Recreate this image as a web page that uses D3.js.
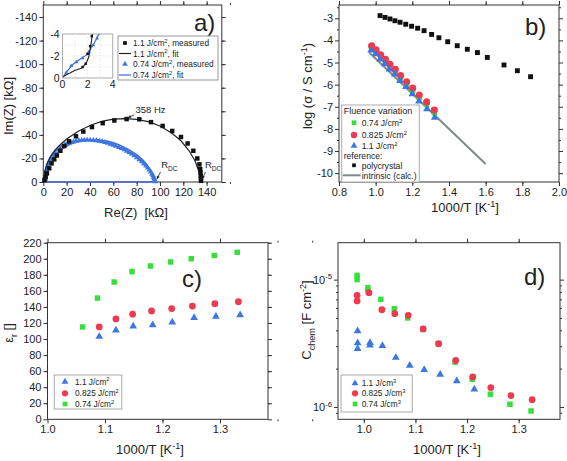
<!DOCTYPE html>
<html><head><meta charset="utf-8">
<script src="https://cdn.jsdelivr.net/npm/d3@7"></script>
<style>body{margin:0;background:#fff} svg{display:block} text{font-family:"Liberation Sans",Arial,sans-serif}</style>
</head><body><svg id="c" width="567" height="461"></svg>
<script>
// ---------- DATA ----------
// panel a (Nyquist), Re in kOhm, Im in kOhm (negative)
const aBlackMeasRe = [1.0,2.0,3.1,5.1,7.1,9.4,11.6,14.6,18.0,22.0,28.0,34.3,41.7,50.9,60.9,71.4,82.3,92.3,102.3,110.5,118.0,123.7,128.6,132.0,133.8,134.5,134.8,135.0,135.1,135.2];
const aBlackMeasIm = [-1.5,-4.0,-7.3,-11.6,-15.8,-19.2,-22.5,-26.5,-30.5,-34.5,-38.8,-42.8,-46.6,-49.9,-52.2,-53.4,-53.2,-50.8,-47.6,-43.3,-38.2,-32.7,-26.5,-20.0,-15.0,-11.0,-8.0,-5.0,-3.0,-1.0];
const aBlackFitRe = [0,1,3,6,10,15,20,30,40,50,60,70,80,90,100,110,118,125,130,133,134.5,135];
const aBlackFitIm = [0,-8,-15,-21,-27,-32,-36.5,-43,-48,-51.5,-53.3,-53.8,-53.2,-51.2,-47.5,-41.5,-35,-26.5,-18,-10,-4,0];
const aBlueMeasRe = [1.5,1.8,2.3,2.9,3.6,4.3,5.4,6.6,8.2,10,12,14.3,16.4,18.6,21,23.5,25.8,28,30.5,32.9,35.3,37.7,40.3,42.9,45.5,48,50.5,52.9,55.3,57.7,60,62.3,64.8,67.2,69.4,71.5,73.6,75.7,77.9,80,82.2,84.3,86.2,88,89.5,90.9,92.1,93.2,94,94.6,95.1,95.4,95.7,96];
const aBlueMeasIm = [-2.3,-4.8,-7.4,-10.2,-13.1,-15.6,-18.2,-20.6,-23,-25.1,-27.2,-28.9,-30.6,-31.8,-32.8,-33.6,-34.2,-34.7,-35.1,-35.4,-35.6,-35.7,-35.6,-35.4,-35.1,-34.8,-34.3,-33.7,-33,-32.2,-31.4,-30.5,-29.5,-28.5,-27.4,-26.3,-25.1,-23.8,-22.3,-20.6,-19,-17.3,-15.5,-13.6,-11.9,-10.2,-8.5,-6.8,-5.4,-4,-2.8,-1.7,-0.8,-0.3];
const aBlueFitRe = [1.4,2,4,7,10,15,20,25,30,35,40,45,50,55,60,65,70,75,80,85,89,92,94,95,95.3,1.4];
const aBlueFitIm = [0,-6,-13,-19,-23,-27.5,-30.5,-32.7,-34.2,-35.1,-35.5,-35.6,-35.3,-34.6,-33.3,-31.5,-29.2,-26.5,-23.2,-19,-14.5,-10,-5.5,-2,0,0];
// inset
const inBlackRe = [0.05,0.3,0.6,1.0,1.5,1.75,1.95,2.1,2.2,2.3,2.38];
const inBlackIm = [-0.1,-0.3,-0.45,-0.7,-0.88,-1.15,-1.5,-1.95,-2.6,-3.3,-4.0];
const inBlackMeasRe = [1.6,1.85,2.0,2.2,2.33];
const inBlackMeasIm = [-1.0,-1.3,-2.2,-2.9,-3.8];
const inBlueRe = [0.05,0.46,0.86,1.4,1.93,2.19,2.59,2.86,2.95];
const inBlueIm = [-0.1,-0.73,-1.27,-1.7,-2.1,-2.55,-3.3,-3.9,-4.0];
const inBlueMeasRe = [0.3,0.7,1.1,1.6,2.1,2.45,2.75];
const inBlueMeasIm = [-0.5,-1.1,-1.45,-1.8,-2.35,-3.0,-3.6];

// panel b (Arrhenius)
const polyX = [1.024,1.051,1.078,1.105,1.133,1.164,1.196,1.229,1.264,1.305,1.345,1.393,1.445,1.5,1.555,1.609,1.70,1.773,1.845];
const polyY = [-2.88,-2.96,-3.03,-3.11,-3.18,-3.27,-3.36,-3.45,-3.56,-3.73,-3.88,-4.06,-4.24,-4.40,-4.55,-4.77,-5.11,-5.37,-5.64];
const bRedX = [0.978,1.002,1.027,1.053,1.078,1.107,1.136,1.169,1.202,1.238,1.278,1.320];
const bRedY = [-4.25,-4.43,-4.65,-4.86,-5.08,-5.31,-5.59,-5.87,-6.15,-6.47,-6.78,-7.15];
const bGreenX = [0.978,1.002,1.027,1.053,1.078,1.107,1.136,1.169,1.202,1.238,1.278,1.320];
const bGreenY = [-4.35,-4.53,-4.75,-4.97,-5.18,-5.42,-5.70,-5.98,-6.27,-6.58,-6.90,-7.27];
const bBlueX = [0.975,1.0,1.025,1.05,1.075,1.104,1.133,1.166,1.2,1.236,1.28,1.322];
const bBlueY = [-4.45,-4.62,-4.85,-5.07,-5.3,-5.53,-5.82,-6.1,-6.42,-6.75,-7.1,-7.48];
const intrX = [0.965,1.6];
const intrY = [-4.55,-9.59];

// panel c (permittivity)
const cGreenX = [1.061,1.087,1.116,1.147,1.179,1.214,1.25,1.29,1.33];
const cGreenY = [115,151,171,184,191,196,200,204,208];
const cRedX = [1.09,1.119,1.148,1.181,1.216,1.252,1.291,1.332];
const cRedY = [115,125,131,135,138,141,144,146.5];
const cBlueX = [1.09,1.119,1.149,1.183,1.217,1.255,1.293,1.335];
const cBlueY = [103,111,116,117.5,121,126.5,128,130];

// panel d (chemical capacitance)
const dGreenX = [0.987,0.987,1.008,1.008,1.033,1.059,1.085,1.115,1.144,1.177,1.21,1.245,1.283,1.324];
const dGreenY = [1.08e-5,1.0e-5,8.65e-6,8.24e-6,7.0e-6,5.9e-6,5.0e-6,4.07e-6,3.14e-6,2.25e-6,1.65e-6,1.26e-6,1.05e-6,9.3e-7];
const dRedX = [0.987,0.987,1.01,1.035,1.06,1.086,1.115,1.145,1.178,1.211,1.246,1.285,1.326];
const dRedY = [7.53e-6,6.8e-6,7.9e-6,5.8e-6,5.4e-6,5.24e-6,4.1e-6,3.14e-6,2.32e-6,1.72e-6,1.42e-6,1.23e-6,1.14e-6];
const dBlueX = [0.988,0.988,0.988,1.012,1.012,1.036,1.062,1.089,1.117,1.148,1.18,1.214];
const dBlueY = [3.95e-6,3.18e-6,2.87e-6,3.2e-6,3.05e-6,3.03e-6,2.44e-6,2.12e-6,1.96e-6,1.80e-6,1.6e-6,1.38e-6];

// ---------- DRAWING ----------
const svg = d3.select("#c");
const GREEN = "#35e03a", RED = "#ee3a4e", BLUE = "#3a78e0", BLACK = "#111", AXC = "#333";
const fmtPlain = d => String(Math.round(d*100)/100).replace("\u2212","-");
const fmt1 = d => d3.format(".1f")(d).replace("\u2212","-");

function axes(g, xs, ys, w, h, o) {
  const defs = [
    [() => d3.axisBottom(xs), `translate(0,${h})`, o.xMaj, o.xMin, o.xFmt],
    [() => d3.axisTop(xs), `translate(0,0)`, o.xMaj, o.xMin, null],
    [() => d3.axisLeft(ys), `translate(0,0)`, o.yMaj, o.yMin, o.yFmt],
    [() => d3.axisRight(ys), `translate(${w},0)`, o.yMaj, o.yMin, null]
  ];
  defs.forEach(([mk, t, maj, min, fmt]) => {
    const gg = g.append("g").attr("transform", t);
    gg.call(mk().tickValues(maj).tickSize(4).tickSizeOuter(0).tickPadding(2).tickFormat(fmt || (() => "")));
    if (min) gg.append("g").call(mk().tickValues(min).tickSize(2).tickSizeOuter(0).tickFormat(() => ""));
    gg.selectAll(".domain").remove();
    gg.selectAll("line").attr("stroke", AXC);
    gg.selectAll("text").filter(function(){ return this.textContent === ""; }).remove();
    gg.selectAll("text").attr("font-size", o.fs || 11).attr("fill", "#222").attr("font-family", "Liberation Sans, Arial, sans-serif");
  });
  g.append("rect").attr("width", w).attr("height", h).attr("fill", "none").attr("stroke", AXC).attr("stroke-width", 1);
}
const range = (a, b, s) => d3.range(Math.round(a/s), Math.round(b/s) + 1).map(i => +(i*s).toFixed(6));
function sym(type, size) { return d3.symbol().type(type).size(size)(); }
function pts(g, xs, ys, X, Y, type, size, color) {
  g.selectAll(null).data(X.map((x, i) => [x, Y[i]])).enter().append("path")
    .attr("d", sym(type, size)).attr("fill", color)
    .attr("transform", d => `translate(${xs(d[0])},${ys(d[1])})`);
}
function line(g, xs, ys, X, Y, color, wdt) {
  g.append("path").attr("d", d3.line()(X.map((x, i) => [xs(x), ys(Y[i])])))
    .attr("fill", "none").attr("stroke", color).attr("stroke-width", wdt);
}
function txt(g, x, y, parts, fs, anchor, rot) {
  const t = g.append("text").attr("x", x).attr("y", y).attr("font-size", fs).attr("fill", "#222")
    .attr("text-anchor", anchor || "start");
  if (rot) t.attr("transform", `rotate(${rot},${x},${y})`);
  let pend = 0;
  parts.forEach(p => {
    if (typeof p === "string") { const s = t.append("tspan").text(p); if (pend) s.attr("dy", pend); pend = 0; }
    else if (p.sup) { t.append("tspan").attr("dy", -fs*0.4 + pend).attr("font-size", fs*0.7).text(p.sup); pend = fs*0.4; }
    else if (p.sub) { t.append("tspan").attr("dy", fs*0.3 + pend).attr("font-size", fs*0.7).text(p.sub); pend = -fs*0.3; }
  });
  return t;
}
function arrow(g, x1, y1, x2, y2) {
  g.append("line").attr("x1", x1).attr("y1", y1).attr("x2", x2).attr("y2", y2).attr("stroke", "#222").attr("stroke-width", 0.8);
  const a = Math.atan2(y2 - y1, x2 - x1), L = 3.5;
  g.append("path").attr("d", `M${x2},${y2}L${x2 - L*Math.cos(a - 0.45)},${y2 - L*Math.sin(a - 0.45)}L${x2 - L*Math.cos(a + 0.45)},${y2 - L*Math.sin(a + 0.45)}Z`).attr("fill", "#222");
}

// ===== Panel a =====
{
  const L = 43.3, T = 5, W = 178.5, H = 177;
  const g = svg.append("g").attr("transform", `translate(${L},${T})`);
  const x = d3.scaleLinear().domain([0, 153]).range([0, W]);
  const y = d3.scaleLinear().domain([0, -150.2]).range([H, 0]);
  axes(g, x, y, W, H, { xMaj: range(0, 140, 20), xMin: range(10, 150, 20), yMaj: range(-140, 0, 20), yMin: range(-150, -10, 20), xFmt: fmtPlain, yFmt: fmtPlain });
  line(g, x, y, aBlueFitRe, aBlueFitIm, "#4a62d8", 1.4);
  pts(g, x, y, aBlueMeasRe, aBlueMeasIm, d3.symbolTriangle, 14, BLUE);
  line(g, x, y, aBlackFitRe, aBlackFitIm, "#222", 1.2);
  pts(g, x, y, aBlackMeasRe, aBlackMeasIm, d3.symbolSquare, 20, BLACK);
  // annotations
  txt(g, x(79), y(-58.5), ["358 Hz"], 9.5);
  arrow(g, x(78), y(-57), x(72.5), y(-54.5));
  txt(g, x(101), y(-12), ["R", {sub: "DC"}], 9.5);
  arrow(g, x(100.5), y(-8.5), x(97.3), y(-2.5));
  txt(g, x(138.5), y(-12), ["R", {sub: "DC"}], 9.5);
  arrow(g, x(139), y(-8.5), x(136.3), y(-2.5));
  txt(g, 194 - L, 31 - T, ["a)"], 24);
  // inset
  const iL = 62.5 - L, iT = 34 - T, iW = 50.2, iH = 44;
  const ig = g.append("g").attr("transform", `translate(${iL},${iT})`);
  const ix = d3.scaleLinear().domain([0, 4]).range([0, iW]);
  const iy = d3.scaleLinear().domain([0, -4]).range([iH, 0]);
  ig.append("rect").attr("width", iW).attr("height", iH).attr("fill", "#fff").attr("stroke", "#aaa");
  [1, 2, 3].forEach(v => {
    ig.append("line").attr("x1", ix(v)).attr("x2", ix(v)).attr("y1", 0).attr("y2", iH).attr("stroke", "#e4e4e4").attr("stroke-dasharray", "1,2");
    ig.append("line").attr("y1", iy(-v)).attr("y2", iy(-v)).attr("x1", 0).attr("x2", iW).attr("stroke", "#e4e4e4").attr("stroke-dasharray", "1,2");
  });
  line(ig, ix, iy, inBlueRe, inBlueIm, "#3f66d8", 1.2);
  pts(ig, ix, iy, inBlueMeasRe, inBlueMeasIm, d3.symbolTriangle, 7, BLUE);
  line(ig, ix, iy, inBlackRe, inBlackIm, "#222", 1.1);
  pts(ig, ix, iy, inBlackMeasRe, inBlackMeasIm, d3.symbolSquare, 6, BLACK);
  [0, 2, 4].forEach(v => txt(ig, ix(v), iH + 10, [String(v)], 10.5, "middle"));
  [[-4, "-4"], [-2, "-2"], [0, "0"]].forEach(([v, s]) => txt(ig, -3, iy(v) + 4, [s], 10.5, "end"));
  // legend
  const lg = g.append("g").attr("transform", `translate(${118 - L},${36 - T})`);
  lg.append("rect").attr("width", 100).attr("height", 44).attr("fill", "#fff").attr("stroke", "#999");
  lg.append("path").attr("d", sym(d3.symbolSquare, 14)).attr("transform", "translate(7,7)").attr("fill", BLACK);
  lg.append("line").attr("x1", 1).attr("x2", 13).attr("y1", 17.5).attr("y2", 17.5).attr("stroke", "#222").attr("stroke-width", 1.2);
  lg.append("path").attr("d", sym(d3.symbolTriangle, 14)).attr("transform", "translate(7,28)").attr("fill", BLUE);
  lg.append("line").attr("x1", 1).attr("x2", 13).attr("y1", 39).attr("y2", 39).attr("stroke", "#4a62d8").attr("stroke-width", 1.2);
  txt(lg, 15, 10, ["1.1 J/cm", {sup: "2"}, ", measured"], 8.3);
  txt(lg, 15, 20.5, ["1.1 J/cm", {sup: "2"}, ", fit"], 8.3);
  txt(lg, 15, 31, ["0.74 J/cm", {sup: "2"}, ", measured"], 8.3);
  txt(lg, 15, 42, ["0.74 J/cm", {sup: "2"}, ", fit"], 8.3);
  txt(svg, 136, 217, ["Re(Z)\u00a0\u00a0[k\u03A9]"], 13, "middle");
  txt(svg, 13, 106, ["Im(Z) [k\u03A9]"], 13, "middle", -90);
}

// ===== Panel b =====
{
  const L = 339, T = 5, W = 220, H = 177;
  const g = svg.append("g").attr("transform", `translate(${L},${T})`);
  const x = d3.scaleLinear().domain([0.8, 2.0]).range([0, W]);
  const y = d3.scaleLinear().domain([-10.4, -2.4]).range([H, 0]);
  axes(g, x, y, W, H, { xMaj: range(0.8, 2.0, 0.2), xMin: range(0.9, 1.9, 0.2), yMaj: range(-10, -3, 1), yMin: range(-10, -2.5, 0.5).filter(v => Math.abs(v % 1) > 0.1), xFmt: fmt1, yFmt: fmtPlain });
  line(g, x, y, intrX, intrY, "#7f8a8c", 2);
  pts(g, x, y, bGreenX, bGreenY, d3.symbolSquare, 30, GREEN);
  pts(g, x, y, bRedX, bRedY, d3.symbolCircle, 40, RED);
  pts(g, x, y, bBlueX, bBlueY, d3.symbolTriangle, 26, BLUE);
  pts(g, x, y, polyX, polyY, d3.symbolSquare, 24, BLACK);
  txt(g, 525 - L, 35 - T, ["b)"], 24);
  const lg = g.append("g").attr("transform", `translate(${341.7 - L},${105 - T})`);
  lg.append("rect").attr("width", 77.6).attr("height", 77).attr("fill", "#fff").attr("stroke", "#aaa");
  txt(lg, 2, 8.5, ["Fluence variation"], 9);
  lg.append("path").attr("d", sym(d3.symbolSquare, 22)).attr("transform", "translate(12.3,17.7)").attr("fill", GREEN);
  lg.append("path").attr("d", sym(d3.symbolCircle, 32)).attr("transform", "translate(12.3,30)").attr("fill", RED);
  lg.append("path").attr("d", sym(d3.symbolTriangle, 20)).attr("transform", "translate(12.3,40.7)").attr("fill", BLUE);
  txt(lg, 20, 21, ["0.74 J/cm", {sup: "2"}], 8.6);
  txt(lg, 20, 33, ["0.825 J/cm", {sup: "2"}], 8.6);
  txt(lg, 20, 44, ["1.1 J/cm", {sup: "2"}], 8.6);
  txt(lg, 2, 54, ["reference:"], 8.6);
  lg.append("path").attr("d", sym(d3.symbolSquare, 14)).attr("transform", "translate(12.3,60.3)").attr("fill", BLACK);
  txt(lg, 20, 63.5, ["polycrystal"], 8.6);
  lg.append("line").attr("x1", 1).attr("x2", 19).attr("y1", 70.3).attr("y2", 70.3).attr("stroke", "#7f8a8c").attr("stroke-width", 2);
  txt(lg, 20, 73.5, ["intrinsic (calc.)"], 8.6);
  txt(svg, 465, 212, ["1000/T [K", {sup: "-1"}, "]"], 13, "middle");
  txt(svg, 312, 86, ["log (\u03C3 / S cm", {sup: "-1"}, ")"], 13, "middle", -90);
}

// ===== Panel c =====
{
  const L = 47.5, T = 242.7, W = 220.5, H = 176.6;
  const g = svg.append("g").attr("transform", `translate(${L},${T})`);
  const x = d3.scaleLinear().domain([1.0, 1.3835]).range([0, W]);
  const y = d3.scaleLinear().domain([0, 220]).range([H, 0]);
  axes(g, x, y, W, H, { xMaj: range(1.0, 1.3, 0.1), xMin: range(1.05, 1.35, 0.1), yMaj: range(0, 220, 20), yMin: range(10, 210, 20), xFmt: fmt1, yFmt: fmtPlain });
  pts(g, x, y, cGreenX, cGreenY, d3.symbolSquare, 30, GREEN);
  pts(g, x, y, cRedX, cRedY, d3.symbolCircle, 36, RED);
  pts(g, x, y, cBlueX, cBlueY, d3.symbolTriangle, 26, BLUE);
  txt(g, 182 - L, 287 - T, ["c)"], 24);
  const lg = g.append("g").attr("transform", `translate(${54.3 - L},${375 - T})`);
  lg.append("rect").attr("width", 67.5).attr("height", 34).attr("fill", "#fff").attr("stroke", "#aaa");
  lg.append("path").attr("d", sym(d3.symbolTriangle, 20)).attr("transform", "translate(10.7,6.7)").attr("fill", BLUE);
  lg.append("path").attr("d", sym(d3.symbolCircle, 30)).attr("transform", "translate(10.7,18.3)").attr("fill", RED);
  lg.append("path").attr("d", sym(d3.symbolSquare, 22)).attr("transform", "translate(10.7,29)").attr("fill", GREEN);
  txt(lg, 20.7, 9.7, ["1.1 J/cm", {sup: "2"}], 8.3);
  txt(lg, 20.7, 21.3, ["0.825 J/cm", {sup: "2"}], 8.3);
  txt(lg, 20.7, 32, ["0.74 J/cm", {sup: "2"}], 8.3);
  txt(svg, 150, 454, ["1000/T [K", {sup: "-1"}, "]"], 13, "middle");
  txt(svg, 13, 333, ["\u03B5", {sub: "r"}, " []"], 13, "middle", -90);
}

// ===== Panel d =====
{
  const L = 338, T = 242.7, W = 222, H = 176.6;
  const g = svg.append("g").attr("transform", `translate(${L},${T})`);
  const x = d3.scaleLinear().domain([0.95, 1.38]).range([0, W]);
  const y = d3.scaleLog().domain([8e-7, 1.95e-5]).range([H, 0]);
  const minor = [9e-7, 2e-6, 3e-6, 4e-6, 5e-6, 6e-6, 7e-6, 8e-6, 9e-6];
  axes(g, x, y, W, H, { xMaj: range(1.0, 1.3, 0.1), xMin: range(0.95, 1.35, 0.1), yMaj: [1e-6, 1e-5], yMin: minor, xFmt: fmt1, yFmt: () => "" });
  [[1e-6, "-6"], [1e-5, "-5"]].forEach(([v, e]) => txt(g, -6, y(v) + 4, ["10", {sup: e}], 11, "end"));
  pts(g, x, y, dGreenX, dGreenY, d3.symbolSquare, 30, GREEN);
  pts(g, x, y, dRedX, dRedY, d3.symbolCircle, 36, RED);
  pts(g, x, y, dBlueX, dBlueY, d3.symbolTriangle, 26, BLUE);
  txt(g, 524 - L, 285 - T, ["d)"], 24);
  const lg = g.append("g").attr("transform", `translate(${341 - L},${375 - T})`);
  lg.append("rect").attr("width", 71.3).attr("height", 37).attr("fill", "#fff").attr("stroke", "#aaa");
  lg.append("path").attr("d", sym(d3.symbolTriangle, 20)).attr("transform", "translate(14,8.3)").attr("fill", BLUE);
  lg.append("path").attr("d", sym(d3.symbolCircle, 30)).attr("transform", "translate(14,18.3)").attr("fill", RED);
  lg.append("path").attr("d", sym(d3.symbolSquare, 22)).attr("transform", "translate(14,29)").attr("fill", GREEN);
  txt(lg, 20.7, 11.3, ["1.1 J/cm", {sup: "3"}], 8.3);
  txt(lg, 20.7, 21.3, ["0.825 J/cm", {sup: "3"}], 8.3);
  txt(lg, 20.7, 32, ["0.74 J/cm", {sup: "3"}], 8.3);
  txt(svg, 447, 454, ["1000/T [K", {sup: "-1"}, "]"], 13, "middle");
  txt(svg, 311, 320, ["C", {sub: "chem"}, " [F cm", {sup: "-2"}, "]"], 13, "middle", -90);
}
</script></body></html>
